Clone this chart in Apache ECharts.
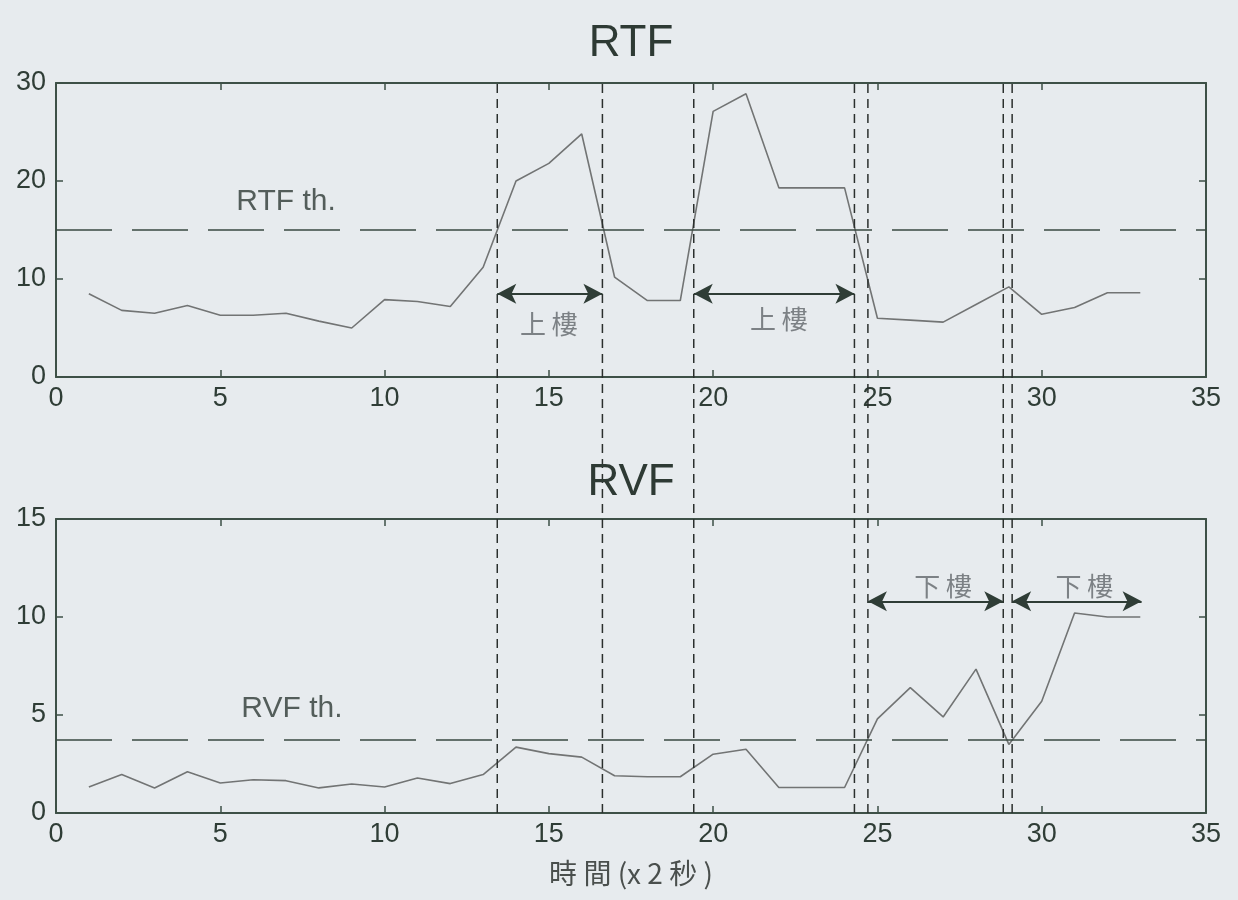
<!DOCTYPE html>
<html>
<head>
<meta charset="utf-8">
<script src="https://cdn.jsdelivr.net/npm/echarts@6/dist/echarts.min.js"></script>
<style>
  html, body { margin: 0; padding: 0; background: #e7ebee; }
  #chart { width: 1238px; height: 900px; }
</style>
</head>
<body>
<div id="chart"></div>
<script>
// Sample index (x 2 s)
const t = [1,2,3,4,5,6,7,8,9,10,11,12,13,14,15,16,17,18,19,20,21,22,23,24,25,26,27,28,29,30,31,32,33];
// RTF per sample
const rtf = [8.5,6.8,6.5,7.3,6.3,6.3,6.5,5.7,5.0,7.9,7.7,7.2,11.2,20.0,21.8,24.8,10.2,7.8,7.8,27.1,28.9,19.3,19.3,19.3,6.0,5.8,5.6,7.4,9.2,6.4,7.1,8.6,8.6];
// RVF per sample
const rvf = [1.33,1.96,1.28,2.1,1.53,1.7,1.65,1.28,1.48,1.33,1.79,1.5,1.96,3.36,3.03,2.85,1.9,1.85,1.85,3.0,3.25,1.3,1.3,1.3,4.8,6.4,4.9,7.34,3.5,5.7,10.2,10.0,10.0];

const rtfThreshold = 15;
const rvfThreshold = 3.75;

// Event boundaries (x positions of the vertical dashed markers)
const boundaries = [13.43, 16.63, 19.41, 24.3, 24.71, 28.83, 29.1];

// Stair segments: [start, end, arrow y, label x, label y, label]
const upSegments = [
  [13.43, 16.63, 8.5, 15.0, 5.4, '上 樓'],
  [19.41, 24.3, 8.5, 22.0, 5.9, '上 樓']
];
const downSegments = [
  [24.71, 28.83, 10.8, 27.0, 11.6, '下 樓'],
  [29.1, 33.04, 10.8, 31.3, 11.6, '下 樓']
];

const xTicks = { min: 0, max: 35, interval: 5 };

const axisColor = '#3e5047';
const textColor = '#2f3d36';
const latin = 'Liberation Sans, Arial, sans-serif';
const cjk = 'Noto Sans CJK TC, Noto Sans CJK SC, sans-serif';

const grids = [
  { left: 56, right: 32, top: 83, height: 294 },
  { left: 56, right: 32, top: 519, height: 294 },
  { left: 56, right: 32, top: 83, bottom: 87 }
];

function xAx(grid, pos, labels) {
  return {
    type: 'value', gridIndex: grid, position: pos,
    min: xTicks.min, max: xTicks.max, interval: xTicks.interval,
    axisLine: { show: true, onZero: false, lineStyle: { color: axisColor, width: 2 } },
    axisTick: { show: true, inside: true, length: 7, lineStyle: { color: axisColor, width: 1.5 } },
    axisLabel: { show: labels, margin: 8, color: textColor, fontSize: 27, fontFamily: latin },
    splitLine: { show: false }
  };
}
function yAx(grid, pos, max, interval, labels) {
  return {
    type: 'value', gridIndex: grid, position: pos,
    min: 0, max: max, interval: interval,
    axisLine: { show: true, onZero: false, lineStyle: { color: axisColor, width: 2 } },
    axisTick: { show: true, inside: true, length: 7, lineStyle: { color: axisColor, width: 1.5 } },
    axisLabel: { show: labels, margin: 10, color: textColor, fontSize: 27, fontFamily: latin },
    splitLine: { show: false }
  };
}

const xAxes = [
  xAx(0, 'bottom', true), xAx(0, 'top', false),
  Object.assign(xAx(1, 'bottom', true), {
    name: '時 間 (x 2 秒 )', nameLocation: 'middle', nameGap: 46,
    nameTextStyle: { color: '#4a4f4d', fontSize: 28, fontFamily: cjk }
  }),
  xAx(1, 'top', false),
  { type: 'value', gridIndex: 2, min: xTicks.min, max: xTicks.max, show: false }
];
const yAxes = [
  yAx(0, 'left', 30, 10, true), yAx(0, 'right', 30, 10, false),
  yAx(1, 'left', 15, 5, true), yAx(1, 'right', 15, 5, false),
  { type: 'value', gridIndex: 2, min: 0, max: 1, show: false }
];

function pairs(ys) { return t.map((x, i) => [x, ys[i]]); }

function thresholdLine(v) {
  return {
    silent: true, symbol: 'none', label: { show: false },
    lineStyle: { color: '#3a4a42', width: 1.6, type: [56, 20] },
    data: [{ yAxis: v }]
  };
}
function arrowLines(segs) {
  return {
    silent: true, symbol: ['arrow', 'arrow'], symbolSize: [15, 19],
    label: { show: false },
    lineStyle: { color: '#2f3d36', width: 2, type: 'solid' },
    data: segs.map(s => [{ coord: [s[0], s[2]] }, { coord: [s[1], s[2]] }])
  };
}
function textSeries(xi, yi, items, color, size, family) {
  return {
    type: 'scatter', xAxisIndex: xi, yAxisIndex: yi, symbolSize: 0, silent: true,
    data: items.map(s => ({ value: [s[0], s[1]], name: s[2] })),
    label: { show: true, position: 'inside', formatter: p => p.name,
      color: color, fontSize: size, fontFamily: family }
  };
}

const series = [
  {
    type: 'line', xAxisIndex: 0, yAxisIndex: 0, data: pairs(rtf),
    symbol: 'none', lineStyle: { color: '#727474', width: 1.6 },
    markLine: thresholdLine(rtfThreshold), z: 3
  },
  { type: 'line', xAxisIndex: 0, yAxisIndex: 0, data: [], markLine: arrowLines(upSegments) },
  {
    type: 'line', xAxisIndex: 2, yAxisIndex: 2, data: pairs(rvf),
    symbol: 'none', lineStyle: { color: '#727474', width: 1.6 },
    markLine: thresholdLine(rvfThreshold), z: 3
  },
  { type: 'line', xAxisIndex: 2, yAxisIndex: 2, data: [], markLine: arrowLines(downSegments) },
  textSeries(0, 0, [[7.0, 17.9, 'RTF th.']], '#2e3a34', 30, latin),
  textSeries(2, 2, [[7.18, 5.3, 'RVF th.']], '#2e3a34', 30, latin),
  textSeries(0, 0, upSegments.map(s => [s[3], s[4], s[5]]), '#62666a', 26, cjk),
  textSeries(2, 2, downSegments.map(s => [s[3], s[4], s[5]]), '#62666a', 26, cjk)
];

// Vertical dashed event markers spanning both panels
boundaries.forEach(x => {
  series.push({
    type: 'line', xAxisIndex: 4, yAxisIndex: 4, data: [[x, 0], [x, 1]],
    symbol: 'none', silent: true,
    lineStyle: { color: '#2a2f2d', width: 1.5, type: [9, 6] }, z: 4
  });
});

const chart = echarts.init(document.getElementById('chart'), null, { renderer: 'canvas' });
chart.setOption({
  backgroundColor: '#e7ebee',
  animation: false,
  title: [
    { text: 'RTF', left: 626, top: 17, textAlign: 'center',
      textStyle: { fontSize: 44, fontWeight: 'normal', color: '#2e3a34', fontFamily: latin, lineHeight: 44 } },
    { text: 'RVF', left: 626, top: 456, textAlign: 'center',
      textStyle: { fontSize: 44, fontWeight: 'normal', color: '#2e3a34', fontFamily: latin, lineHeight: 44 } }
  ],
  grid: grids,
  xAxis: xAxes,
  yAxis: yAxes,
  series: series
});
</script>
</body>
</html>
